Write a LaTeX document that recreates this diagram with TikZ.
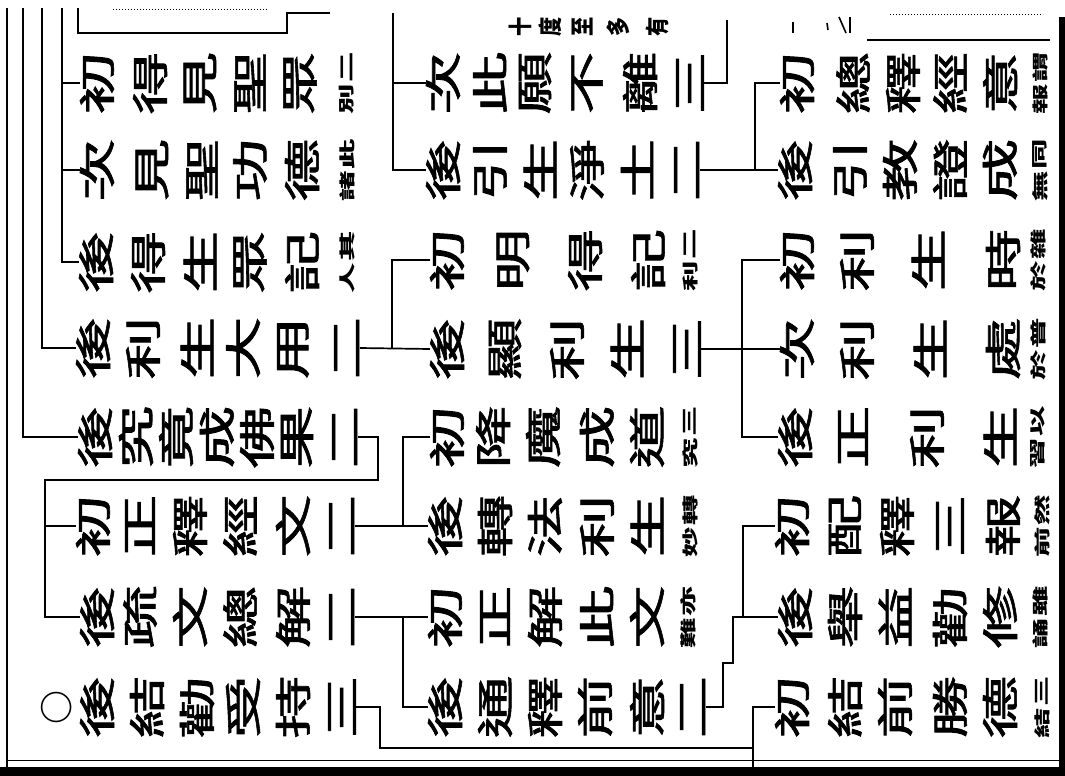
\documentclass[tikz,border=0pt]{standalone}
\usepackage{fontspec}
\usepackage{graphicx}
\newfontfamily\cjk{Noto Sans CJK TC}
\newfontfamily\cjkm{Noto Sans CJK TC}[FakeBold=1.5]
\newcommand\gs{1.7}
\tikzset{
  glyph/.style={inner sep=0pt, outer sep=0pt, rotate=90, font=\cjkm\fontsize{37}{37}\selectfont},
  notech/.style={inner sep=0pt, outer sep=0pt, rotate=90, font=\cjk\bfseries\fontsize{16}{16}\selectfont},
  frag/.style={inner sep=0pt, rotate=90, font=\cjk\bfseries\fontsize{24}{24}\selectfont},
  conn/.style={line width=1.7pt},
  frame/.style={line width=2pt}
}
\newcommand\Row[3]{\foreach \gx/\gc [count=\gk] in {#3}{\node[glyph] (#1-\gk) at (\gx,#2) {\scalebox{\gs}[1]{\gc}};}}
\newcommand\Note[5]{%
  \node[notech] (#1-t) at (#2,#3-16) {\scalebox{1.9}[1]{#4}};
  \node[notech] (#1-b) at (#2,#3+16) {\scalebox{1.9}[1]{#5}};}
\begin{document}
\begin{tikzpicture}[x=1pt,y=-1pt]
\fill[white] (0,0) rectangle (1065,776);
\useasboundingbox (0,0) rectangle (1065,776);

% ---------- left tier ----------
\Row{L1}{83}{97/初,150/得,200/見,250/聖,300/眾}
\Note{L1n}{347}{83}{二}{別}
\Row{L2}{170}{97/次,152/見,202/聖,250/功,302/德}
\Note{L2n}{347}{170}{此}{諸}
\Row{L3}{262}{96/後,148/得,200/生,250/眾,302/記}
\Note{L3n}{347}{262}{其}{人}
\Row{L4}{348}{93/後,143/利,197/生,243/大,293/用,347/二}
\Row{L5}{437}{95/後,136/究,176/竟,217/成,257/佛,297/果,345/二}
\Row{L6}{526}{93/初,140/正,190/釋,240/經,293/文,342/二}
\Row{L7}{617}{97/後,140/疏,190/文,240/總,293/解,342/二}
\node[glyph, font=\cjk\bfseries\fontsize{34}{34}\selectfont] (L8-0) at (57,707) {○};
\Row{L8}{707}{97/後,147/結,197/勸,243/受,293/持,342/三}

% ---------- middle tier ----------
\foreach \fx/\fc [count=\fk] in {520/十,550/度,583/至,618/多,657/有}{\node[frag] (M0-\fk) at (\fx,27) {\scalebox{0.8}[1]{\fc}};}
\Row{M1}{83}{443/次,490/此,535/願,587/不,640/離,690/三}
\Row{M2}{170}{443/後,490/引,540/生,587/淨,637/土,687/二}
\Row{M3}{260}{447/初,513/明,585/得,648/記}
\Note{M3n}{690}{260}{二}{利}
\Row{M4}{349}{447/後,505/顯,567/利,627/生,687/三}
\Row{M5}{437}{447/初,493/降,543/魔,597/成,647/道}
\Note{M5n}{690}{437}{三}{究}
\Row{M6}{526}{445/後,495/轉,545/法,597/利,647/生}
\Note{M6n}{690}{526}{轉}{妙}
\Row{M7}{617}{445/初,495/正,545/解,597/此,647/文}
\Note{M7n}{688}{617}{亦}{難}
\Row{M8}{707}{445/後,495/通,545/釋,595/前,647/意,693/二}

% ---------- right tier ----------
\Row{R1}{83}{797/初,853/總,903/釋,950/經,1000/意}
\Note{R1n}{1040}{83}{謂}{報}
\Row{R2}{170}{795/後,850/引,900/教,950/證,1000/成}
\Note{R2n}{1040}{170}{同}{無}
\Row{R3}{260}{797/初,857/利,928/生,1003/時}
\Note{R3n}{1038}{260}{雜}{於}
\Row{R4}{349}{797/次,857/利,930/生,1003/處}
\Note{R4n}{1038}{349}{普}{於}
\Row{R5}{437}{795/後,853/正,927/利,1000/生}
\Note{R5n}{1038}{437}{以}{習}
\Row{R6}{526}{792/初,845/配,897/釋,950/三,1003/報}
\Note{R6n}{1042}{526}{然}{前}
\Row{R7}{617}{795/後,845/舉,895/益,950/勸,1000/修}
\Note{R7n}{1040}{617}{雖}{誦}
\Row{R8}{707}{792/初,845/結,895/前,950/勝,1000/德}
\Note{R8n}{1042}{707}{三}{結}

% ---------- junction coordinates ----------
\coordinate (jL1) at (62,8);
\coordinate (jL2) at (42,8);
\coordinate (jL3) at (23,8);
\coordinate (tA) at (78,8);
\coordinate (tB) at (287,33);
\coordinate (tC) at (330,13);
\coordinate (jM34) at (392,0);
\coordinate (kA) at (378,480);
\coordinate (jL67) at (45,480);
\coordinate (jM56) at (403,0);
\coordinate (jM12) at (393,13);
\coordinate (kB) at (727,20);
\coordinate (jR12) at (755,0);
\coordinate (jR35) at (742,0);
\coordinate (kC) at (723,663);
\coordinate (kD) at (733,663);
\coordinate (jR67) at (743,0);
\coordinate (kE) at (380,748);
\coordinate (jR8) at (753,748);
\coordinate (kF) at (753,767);

% ---------- connectors ----------
\draw[conn] (jL1) |- (L3-1.north);
\draw[conn] (jL1 |- L1-1.north) -- (L1-1.north);
\draw[conn] (jL1 |- L2-1.north) -- (L2-1.north);
\draw[conn] (jL2) |- (L4-1.north);
\draw[conn] (jL3) |- (L5-1.north);
\draw[conn] (tA) |- (tB) |- (tC);

\draw[conn] (L4-6.south) -- (M4-1.north);
\draw[conn] (M3-1.north) -| (jM34 |- M4-1.north);

\draw[conn] (L5-7.south) -| (kA) -- (jL67) |- (L7-1.north);
\draw[conn] (jL67 |- L6-1.north) -- (L6-1.north);

\draw[conn] (L6-6.south) -- (M6-1.north);
\draw[conn] (M5-1.north) -| (jM56 |- M6-1.north);
\draw[conn] (L7-6.south) -- (M7-1.north);
\draw[conn] (jM56 |- M7-1.north) |- (M8-1.north);

\draw[conn] (L8-6.south) -| (kE) -- (jR8) |- (R8-1.north);
\draw[conn] (jR8) -- (kF);

\draw[conn] (jM12) |- (M2-1.north);
\draw[conn] (jM12 |- M1-1.north) -- (M1-1.north);
\draw[conn] (M1-6.south) -| (kB);

\draw[conn] (M2-6.south) -- (R2-1.north);
\draw[conn] (R1-1.north) -| (jR12 |- R2-1.north);

\draw[conn] (M4-5.south) -- (R4-1.north);
\draw[conn] (R3-1.north) -| (jR35 |- R5-1.north) -- (R5-1.north);

\draw[conn] (M8-6.south) -| (kC) -- (kD) |- (R7-1.north);
\draw[conn] (R6-1.north) -| (jR67 |- R7-1.north);

% ---------- page frame and fragments ----------
\draw[frame] (7,8) -- (7,767);
\fill[black] (1059,17) rectangle (1065,776);
\fill[black] (0,767) rectangle (1065,776);
\draw[line width=0.8pt] (7,760) -- (1059,760);
\draw[line width=1.6pt] (867,40) -- (1050,40);
\draw[dotted, line width=1pt] (890,15) -- (1043,15);
\draw[dotted, line width=1pt] (113,10) -- (267,10);
\draw[line width=1.6pt] (793,22) -- (793,33);
\draw[line width=1.6pt] (827,23) -- (828,30);
\draw[line width=1.6pt] (839,17) -- (846,33);
\draw[line width=1.6pt] (850,17) -- (850,33);
\end{tikzpicture}
\end{document}
